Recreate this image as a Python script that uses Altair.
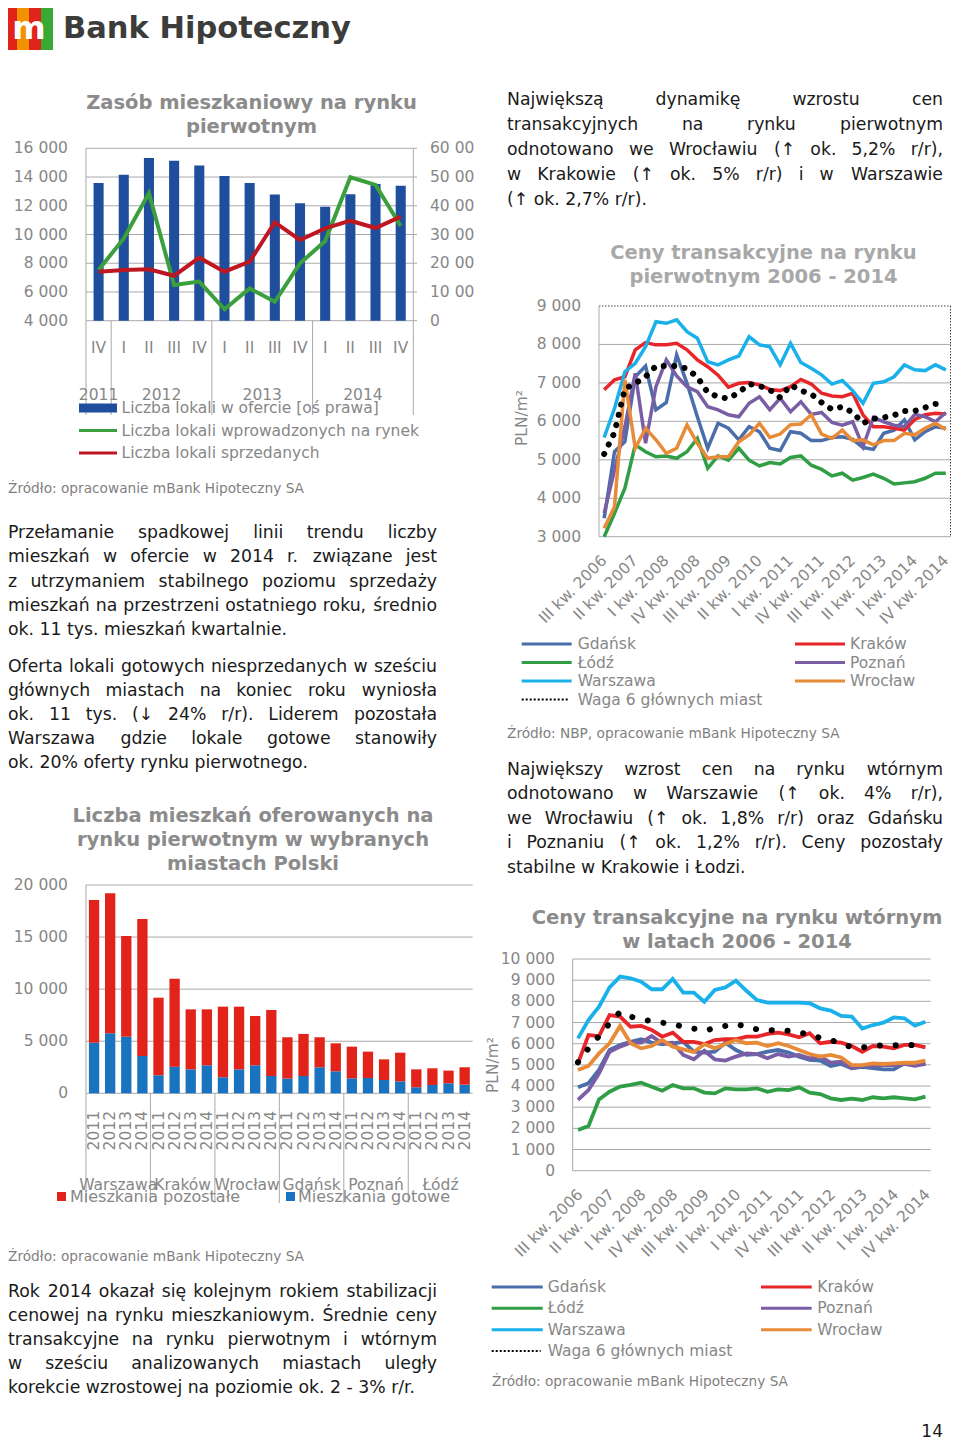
import altair as alt
import pandas as pd

# ---------------- page geometry ----------------
OX, OY = 8, 8
W, H = 944, 1435


def X(v):
    return v - OX


def Y(v):
    return v - OY


FONT = "DejaVu Sans"
TXT = "#1a1a1a"
LBL = "#878787"
GRID = "#a9a9a9"
TTL = "#8b8b8b"
TTL2 = "#a8a8a8"

# ---------------- data ----------------
# header
logo_word = "Bank Hipoteczny"
logo_stripes = ["s1", "s2", "s3", "s4"]

# chart 1
c1_title = ["Zasób mieszkaniowy na rynku", "pierwotnym"]
c1_quarters = ["IV", "I", "II", "III", "IV", "I", "II", "III", "IV", "I", "II", "III", "IV"]
c1_years = ["2011", "2012", "2012", "2012", "2012", "2013", "2013", "2013", "2013",
            "2014", "2014", "2014", "2014"]
c1_offer = [47900, 50800, 56600, 55700, 54000, 50400, 47900, 43900, 40900, 39700, 44000, 47600, 47000]
c1_new = [7530, 9730, 12870, 6480, 6720, 4790, 6250, 5320, 7990, 9550, 13980, 13450, 10590]
c1_sold = [7410, 7530, 7580, 7130, 8390, 7410, 8110, 10850, 9620, 10430, 10960, 10450, 11240]
c1_left_ticks = [4000, 6000, 8000, 10000, 12000, 14000, 16000]
c1_right_ticks = [0, 10000, 20000, 30000, 40000, 50000, 60000]
c1_right_labels = ["0", "10 00", "20 00", "30 00", "40 00", "50 00", "60 00"]
c1_legend = ["Liczba lokali w ofercie [oś prawa]", "Liczba lokali wprowadzonych na rynek",
             "Liczba lokali sprzedanych"]
source_mbh = "Źródło: opracowanie mBank Hipoteczny SA"
source_nbp = "Źródło: NBP, opracowanie mBank Hipoteczny SA"

# chart 2 / 4 (quarters III kw. 2006 .. IV kw. 2014)
roman = ["I", "II", "III", "IV"]
quarters = [f"{roman[q]} kw. {y}" for y in range(2006, 2015) for q in range(4)][2:]
cities = ["Gdańsk", "Kraków", "Łódź", "Poznań", "Warszawa", "Wrocław"]
waga_name = "Waga 6 głównych miast"

c2_title = ["Ceny transakcyjne na rynku", "pierwotnym 2006 - 2014"]
c2_gdansk = [3480, 5210, 5470, 7160, 7440, 6300, 6490, 7730, 6990, 6120, 5300, 5950, 5820, 5520, 5860, 5730, 5300,
             5240, 5730, 5690, 5500, 5500, 5580, 5600, 5530, 5320, 5270, 5690, 5770, 6040, 5520, 5730, 5860, 5820]
c2_krakow = [6820, 7080, 7160, 7860, 8050, 7990, 7990, 8030, 7860, 7600, 7420, 7200, 6890, 6990, 7010, 6950, 6830,
             6800, 6900, 7090, 6970, 6730, 6660, 6640, 6730, 6170, 5860, 5860, 5820, 5770, 6050, 6170, 6210, 6190]
c2_lodz = [3000, 3610, 4260, 5390, 5210, 5080, 5100, 5040, 5210, 5560, 4780, 5100, 4990, 5300, 4990, 4840, 4930,
           4890, 5060, 5100, 4860, 4750, 4580, 4650, 4470, 4540, 4630, 4520, 4370, 4400, 4430, 4520, 4650, 4650]
c2_poznan = [3610, 4730, 5860, 7250, 5430, 6900, 7600, 7180, 6900, 6770, 6380, 6300, 6170, 6120, 6470, 6640, 6300,
             6600, 6250, 6510, 6180, 6230, 5970, 5900, 5990, 5340, 6100, 5990, 5900, 5860, 6180, 6120, 5990, 6230]
c2_warszawa = [5580, 6340, 7290, 7510, 7940, 8590, 8550, 8640, 8330, 8160, 7550, 7470, 7600, 7700, 8200, 7990, 7940,
               7470, 8030, 7530, 7380, 7210, 6970, 7060, 6800, 6470, 6990, 7030, 7160, 7470, 7340, 7320, 7470, 7340]
c2_wroclaw = [3220, 3780, 7080, 5300, 5820, 5520, 5170, 5300, 5910, 5430, 5040, 5080, 5080, 5470, 5650, 5950, 5580,
              5670, 5910, 5930, 6170, 5670, 5560, 5770, 5500, 5520, 5390, 5500, 5500, 5690, 5650, 5820, 5950, 5790]
c2_waga = [5150, 5710, 6850, 6990, 7160, 7440, 7440, 7440, 7370, 7150, 6750, 6640, 6590, 6750, 6970, 6920, 6820,
           6620, 6940, 6800, 6710, 6490, 6310, 6380, 6230, 5950, 6070, 6100, 6160, 6270, 6270, 6360, 6450, 6480]
c2_ticks = [3000, 4000, 5000, 6000, 7000, 8000, 9000]

c4_title = ["Ceny transakcyjne na rynku wtórnym", "w latach 2006 - 2014"]
c4_gdansk = [3940, 4130, 4760, 5700, 5940, 6090, 6210, 6050, 5980, 6020, 6090, 5620, 5580, 5620, 6050, 5700, 5470,
             5510, 5620, 5700, 5580, 5390, 5230, 5200, 4950, 5040, 4840, 4910, 4840, 4790, 4790, 5070, 5040, 5040]
c4_krakow = [5070, 6410, 6360, 7350, 7280, 6800, 6840, 6650, 6330, 6520, 6090, 6090, 5980, 6170, 6210, 6210, 6330,
             6330, 6460, 6520, 6440, 6300, 6490, 6020, 6090, 6050, 5890, 5620, 5890, 5860, 5780, 5940, 5940, 5830]
c4_lodz = [1920, 2110, 3370, 3730, 3970, 4050, 4160, 3970, 3780, 4050, 3890, 3890, 3690, 3650, 3890, 3840, 3840,
           3890, 3730, 3840, 3810, 3940, 3690, 3620, 3420, 3340, 3400, 3340, 3470, 3420, 3470, 3420, 3370, 3500]
c4_poznan = [3340, 3810, 4600, 5620, 5860, 6050, 6050, 6360, 6020, 6050, 5470, 5260, 5670, 5260, 5200, 5390, 5540,
             5510, 5310, 5510, 5390, 5470, 5310, 5390, 5100, 5150, 4840, 4950, 4950, 4990, 4990, 5040, 4950, 5040]
c4_warszawa = [6250, 7120, 7750, 8660, 9170, 9090, 8930, 8570, 8570, 9060, 8410, 8410, 7980, 8540, 8660, 8980, 8500,
               8060, 7940, 7940, 7940, 7940, 7910, 7670, 7560, 7310, 7280, 6720, 6880, 6990, 7240, 7200, 6850, 7040]
c4_wroclaw = [4760, 4950, 5540, 6020, 6840, 6020, 5780, 5890, 6170, 5860, 5730, 5610, 5980, 5780, 5980, 6170, 6020,
              6050, 5890, 6020, 5890, 5700, 5510, 5390, 5470, 5350, 4990, 4990, 5070, 5040, 5070, 5100, 5100, 5200]
c4_waga = [5120, 5780, 6360, 6960, 7500, 7280, 7150, 7060, 6990, 6930, 6800, 6710, 6610, 6740, 6840, 6930, 6800,
           6680, 6650, 6610, 6610, 6520, 6440, 6270, 6170, 6020, 5830, 5830, 5860, 5940, 5920, 5920, 5940, 5920]
c4_ticks = [0, 1000, 2000, 3000, 4000, 5000, 6000, 7000, 8000, 9000, 10000]

# chart 3
c3_title = ["Liczba mieszkań oferowanych na", "rynku pierwotnym w wybranych", "miastach Polski"]
c3_cities = ["Warszawa", "Kraków", "Wrocław", "Gdańsk", "Poznań", "Łódź"]
c3_years = ["2011", "2012", "2013", "2014"]
c3_types = ["Mieszkania pozostałe", "Mieszkania gotowe"]
c3_ready = [4860, 5760, 5440, 3580, 1730, 2560, 2300, 2690, 1540, 2300, 2690, 1660,
            1410, 1660, 2500, 2110, 1440, 1470, 1280, 1150, 580, 800, 960, 830]
c3_other = [13700, 13440, 9660, 13160, 7450, 8450, 5760, 5370, 6780, 6020, 4730, 6340,
            3970, 4040, 2880, 2690, 3040, 2530, 1980, 2750, 1720, 1600, 1220, 1670]
c3_ticks = [0, 5000, 10000, 15000, 20000]

# text paragraphs
para_rt = ["Największą dynamikę wzrostu cen",
           "transakcyjnych na rynku pierwotnym",
           "odnotowano we Wrocławiu (↑ ok. 5,2% r/r),",
           "w Krakowie (↑ ok. 5% r/r) i w Warszawie",
           "(↑ ok. 2,7% r/r)."]
para_l1 = ["Przełamanie spadkowej linii trendu liczby",
           "mieszkań w ofercie w 2014 r. związane jest",
           "z utrzymaniem stabilnego poziomu sprzedaży",
           "mieszkań na przestrzeni ostatniego roku, średnio",
           "ok. 11 tys. mieszkań kwartalnie."]
para_l2 = ["Oferta lokali gotowych niesprzedanych w sześciu",
           "głównych miastach na koniec roku wyniosła",
           "ok. 11 tys. (↓ 24% r/r). Liderem pozostała",
           "Warszawa gdzie lokale gotowe stanowiły",
           "ok. 20% oferty rynku pierwotnego."]
para_rm = ["Największy wzrost cen na rynku wtórnym",
           "odnotowano w Warszawie (↑ ok. 4% r/r),",
           "we Wrocławiu (↑ ok. 1,8% r/r) oraz Gdańsku",
           "i Poznaniu (↑ ok. 1,2% r/r). Ceny pozostały",
           "stabilne w Krakowie i Łodzi."]
para_lb = ["Rok 2014 okazał się kolejnym rokiem stabilizacji",
           "cenowej na rynku mieszkaniowym. Średnie ceny",
           "transakcyjne na rynku pierwotnym i wtórnym",
           "w sześciu analizowanych miastach uległy",
           "korekcie wzrostowej na poziomie ok. 2 - 3% r/r."]
page_no = "14"

# ---------------- styles ----------------
logo_colors = ["#e2231a", "#f39200", "#e2231a", "#3aaa35"]
C1_BAR, C1_GREEN, C1_RED = "#1f4f9c", "#3a9f3c", "#bf1722"
C3_COLORS = ["#e2231a", "#1a73be"]
CITY_COLORS = ["#4a6ea9", "#e8262a", "#2f9e44", "#7a5ea5", "#1ab0ea", "#e88b39"]
CCOL = dict(zip(cities, CITY_COLORS))

# ---------------- helpers ----------------
ONE = pd.DataFrame({"k": [0]})
layers = []


def fmt(v):
    return f"{v:,}".replace(",", " ")


def qs(lo, hi, r0, r1):
    return alt.Scale(domain=[lo, hi], range=[r0, r1], zero=False, nice=False)


def ps(domain, a, b):
    return alt.Scale(type="point", domain=domain, range=[a, b], padding=0)


def txt(df, x, y, text, size=15.5, color=LBL, align="left", baseline="middle", angle=0, weight="normal",
        font=FONT):
    return alt.Chart(df).mark_text(align=align, baseline=baseline, angle=angle, fontSize=size, color=color,
                                   font=font, fontWeight=weight).encode(x=x, y=y, text=text)


def label(s, x, y, size=15.5, color=LBL, align="left", weight="normal", angle=0, lh=24, baseline="middle",
          font=FONT):
    lines = s if isinstance(s, list) else [s]
    return alt.Chart(ONE).mark_text(text=lines, align=align, baseline=baseline, fontSize=size, color=color,
                                    font=font, fontWeight=weight, angle=angle, lineHeight=lh).encode(
        x=alt.value(X(x)), y=alt.value(Y(y)))


def groups_of(seq):
    out = []
    for i, v in enumerate(seq):
        if not out or out[-1][0] != v:
            out.append([v, i, i])
        else:
            out[-1][2] = i
    return out


# DejaVu Sans advance widths (units per em 2048) for justified text layout
DV = {' ': 651, '%': 1946, '(': 799, ')': 799, ',': 651, '-': 739, '.': 651, '/': 690, ':': 690,
      'A': 1401, 'B': 1405, 'C': 1430, 'D': 1577, 'E': 1294, 'F': 1178, 'G': 1587, 'H': 1540, 'I': 604,
      'J': 604, 'K': 1343, 'L': 1141, 'M': 1767, 'N': 1532, 'O': 1612, 'P': 1235, 'R': 1423, 'S': 1300,
      'T': 1251, 'U': 1499, 'W': 2025, 'Z': 1403,
      'a': 1255, 'b': 1300, 'c': 1126, 'd': 1300, 'e': 1260, 'f': 721, 'g': 1300, 'h': 1298, 'i': 569,
      'j': 569, 'k': 1186, 'l': 569, 'm': 1995, 'n': 1298, 'o': 1253, 'p': 1300, 'r': 842, 's': 1067,
      't': 803, 'u': 1298, 'v': 1212, 'w': 1675, 'y': 1212, 'z': 1075,
      'ą': 1255, 'ę': 1260, 'ó': 1253, 'ś': 1067, 'ź': 1075, 'ż': 1075, 'ń': 1298, 'ł': 589, 'ć': 1126,
      'Ł': 1145, 'Ś': 1300, '↑': 1716, '↓': 1716}
for d in "0123456789":
    DV[d] = 1303
PSIZE = 17.3


def tw(s, size=PSIZE):
    return sum(DV.get(ch, 1250) for ch in s) / 2048.0 * size


left_rows, right_rows = [], []


def justify(lines, x0, x1, y0, dy):
    for k, line in enumerate(lines):
        yy = y0 + k * dy
        words = line.split()
        if k == len(lines) - 1 or len(words) < 2:
            left_rows.append({"x": X(x0), "y": Y(yy), "t": line})
            continue
        widths = [tw(w) for w in words]
        gap = (x1 - x0 - sum(widths)) / (len(words) - 1)
        xc = x0
        for j, w in enumerate(words):
            if j == len(words) - 1:
                right_rows.append({"x": X(x1), "y": Y(yy), "t": w})
            else:
                left_rows.append({"x": X(xc), "y": Y(yy), "t": w})
            xc += widths[j] + gap


justify(para_rt, 507, 943, 99.5, 25)
justify(para_l1, 8, 437, 533, 24.3)
justify(para_l2, 8, 437, 666.5, 24.2)
justify(para_rm, 507, 943, 770, 24.4)
justify(para_lb, 8, 437, 1291.5, 24)

# ---------------- header ----------------
dfl = pd.DataFrame({"s": logo_stripes})
layers.append(alt.Chart(dfl).mark_rect().encode(
    x=alt.X("s:N", scale=alt.Scale(domain=logo_stripes, range=[X(5), X(53)], paddingInner=0, paddingOuter=0),
            axis=None),
    y=alt.value(Y(8)), y2=alt.value(Y(50)),
    color=alt.Color("s:N", scale=alt.Scale(domain=logo_stripes, range=logo_colors), legend=None)))
layers.append(label("m", 29, 39, size=32, color="#ffffff", align="center", weight="bold", baseline="alphabetic"))
layers.append(label(logo_word, 63, 37.5, size=30.5, color="#3c3c3b", weight="bold", baseline="alphabetic"))

# ---------------- chart 1 ----------------
C1L, C1R, C1T, C1B = 86, 413.3, 148.3, 320.7
n1 = len(c1_quarters)
keys1 = [f"{q} {y}" for q, y in zip(c1_quarters, c1_years)]
df1 = pd.DataFrame({"i": range(n1), "key": keys1, "q": c1_quarters, "offer": c1_offer, "new": c1_new,
                    "sold": c1_sold})
x1 = alt.X("i:Q", scale=qs(-0.5, n1 - 0.5, X(C1L), X(C1R)), axis=None)
yl1 = qs(4000, 16000, Y(C1B), Y(C1T))
yr1 = qs(0, 60000, Y(C1B), Y(C1T))

dft = pd.DataFrame({"v": c1_left_ticks, "t": [fmt(v) for v in c1_left_ticks]})
layers.append(alt.Chart(dft).mark_rule(color=GRID, strokeWidth=1).encode(
    y=alt.Y("v:Q", scale=yl1, axis=None), x=alt.value(X(C1L)), x2=alt.value(X(417))))
layers.append(txt(dft, alt.value(X(68)), alt.Y("v:Q", scale=yl1, axis=None), "t:N", align="right"))
dfr = pd.DataFrame({"v": c1_right_ticks, "t": c1_right_labels})
layers.append(txt(dfr, alt.value(X(430)), alt.Y("v:Q", scale=yr1, axis=None), "t:N"))

layers.append(alt.Chart(df1).mark_bar(color=C1_BAR).encode(
    x=alt.X("key:N", scale=alt.Scale(domain=keys1, range=[X(C1L), X(C1R)], paddingInner=0.6, paddingOuter=0.3),
            axis=None),
    y=alt.Y("offer:Q", scale=yr1, axis=None)))
layers.append(alt.Chart(df1).mark_line(color=C1_GREEN, strokeWidth=4).encode(
    x=x1, y=alt.Y("new:Q", scale=yl1, axis=None)))
layers.append(alt.Chart(df1).mark_line(color=C1_RED, strokeWidth=4).encode(
    x=x1, y=alt.Y("sold:Q", scale=yl1, axis=None)))
layers.append(txt(df1, x1, alt.value(Y(348.3)), "q:N", align="center"))

g1 = groups_of(c1_years)
bounds1 = [g[1] - 0.5 for g in g1] + [g1[-1][2] + 0.5]
dfb_in = pd.DataFrame({"b": bounds1[1:-1]})
dfb_out = pd.DataFrame({"b": [bounds1[0], bounds1[-1]]})
xb1 = alt.X("b:Q", scale=qs(-0.5, n1 - 0.5, X(C1L), X(C1R)), axis=None)
layers.append(alt.Chart(dfb_out).mark_rule(color=GRID).encode(x=xb1, y=alt.value(Y(C1T)), y2=alt.value(Y(415))))
layers.append(alt.Chart(dfb_in).mark_rule(color=GRID).encode(x=xb1, y=alt.value(Y(C1B)), y2=alt.value(Y(415))))
dfy1 = pd.DataFrame({"c": [(g[1] + g[2]) / 2 for g in g1], "t": [g[0] for g in g1]})
layers.append(txt(dfy1, alt.X("c:Q", scale=qs(-0.5, n1 - 0.5, X(C1L), X(C1R)), axis=None), alt.value(Y(395)),
                  "t:N", align="center"))

dfleg1 = pd.DataFrame({"e": c1_legend})
yleg1 = alt.Y("e:N", scale=ps(c1_legend, Y(408), Y(453)), axis=None)
cleg1 = alt.Color("e:N", scale=alt.Scale(domain=c1_legend, range=[C1_BAR, C1_GREEN, C1_RED]), legend=None)
layers.append(alt.Chart(dfleg1.iloc[[0]]).mark_rule(strokeWidth=9).encode(
    y=yleg1, x=alt.value(X(79)), x2=alt.value(X(117)), color=cleg1))
layers.append(alt.Chart(dfleg1.iloc[[1, 2]]).mark_rule(strokeWidth=3).encode(
    y=yleg1, x=alt.value(X(79)), x2=alt.value(X(117)), color=cleg1))
layers.append(txt(dfleg1, alt.value(X(121.5)), yleg1, "e:N"))
layers.append(label(c1_title, 251.5, 103, size=19.5, color=TTL, align="center", weight="bold"))
layers.append(label(source_mbh, 8, 489, size=13.7, color="#7f7f7f"))


# ---------------- charts 2 & 4 (prices) ----------------
def price_chart(series, waga, title, g):
    n = len(quarters)
    L, R, T, B = g["L"], g["R"], g["T"], g["B"]
    xs = qs(-0.5, n - 0.5, X(L), X(R))
    ys = qs(g["ymin"], g["ymax"], Y(B), Y(T))
    ticks = g["ticks"]
    dft = pd.DataFrame({"v": ticks, "t": [fmt(v) for v in ticks]})
    solid = dft if not g["dotted"] else dft.iloc[:-1]
    layers.append(alt.Chart(solid).mark_rule(color=GRID, strokeWidth=1).encode(
        y=alt.Y("v:Q", scale=ys, axis=None), x=alt.value(X(L)), x2=alt.value(X(R))))
    if g["dotted"]:
        layers.append(alt.Chart(dft.iloc[[-1]]).mark_rule(color="#444444", strokeWidth=1,
                                                           strokeDash=[1.5, 1.5]).encode(
            y=alt.Y("v:Q", scale=ys, axis=None), x=alt.value(X(L)), x2=alt.value(X(R))))
        layers.append(alt.Chart(ONE).mark_rule(color="#444444", strokeWidth=1, strokeDash=[1.5, 1.5]).encode(
            x=alt.value(X(R - 0.5)), y=alt.value(Y(T)), y2=alt.value(Y(B))))
    layers.append(alt.Chart(ONE).mark_rule(color=GRID, strokeWidth=1).encode(
        x=alt.value(X(L)), y=alt.value(Y(T)), y2=alt.value(Y(B))))
    layers.append(txt(dft, alt.value(X(g["ylab_x"])), alt.Y("v:Q", scale=ys, axis=None), "t:N", align="right"))

    rows = []
    for c in cities:
        for i, v in enumerate(series[c]):
            rows.append({"i": i, "city": c, "v": v})
    dfl = pd.DataFrame(rows)
    layers.append(alt.Chart(dfl).mark_line(strokeWidth=g["lw"]).encode(
        x=alt.X("i:Q", scale=xs, axis=None), y=alt.Y("v:Q", scale=ys, axis=None),
        color=alt.Color("city:N", scale=alt.Scale(domain=cities, range=CITY_COLORS), legend=None)))
    dfw = pd.DataFrame({"i": range(n), "v": waga})
    layers.append(alt.Chart(dfw).mark_line(color="#000000", strokeWidth=6, strokeDash=[0.1, g["dot"]],
                                           strokeCap="round").encode(
        x=alt.X("i:Q", scale=xs, axis=None), y=alt.Y("v:Q", scale=ys, axis=None)))

    dfx = pd.DataFrame({"i": range(n), "t": quarters})
    dfx = dfx[dfx["i"] % 3 == 0]
    layers.append(alt.Chart(dfx).mark_text(align="right", baseline="middle", angle=315, fontSize=15.5,
                                           color=LBL, font=FONT, dx=g["xl_dx"]).encode(
        x=alt.X("i:Q", scale=xs, axis=None), y=alt.value(Y(g["xl_y"])), text="t:N"))
    layers.append(label("PLN/m²", g["pln_x"], g["pln_y"], align="center", angle=270))
    layers.append(label(title, g["tx"], g["ty"], size=19.5, color=g["tcol"], align="center", weight="bold"))

    left_e = ["Gdańsk", "Łódź", "Warszawa", waga_name]
    right_e = ["Kraków", "Poznań", "Wrocław"]
    y0, y1 = g["leg_y"]
    step = (y1 - y0) / 3
    yl = alt.Y("e:N", scale=ps(left_e, Y(y0), Y(y1)), axis=None)
    yr = alt.Y("e:N", scale=ps(right_e, Y(y0), Y(y0 + 2 * step)), axis=None)
    dfle = pd.DataFrame({"e": left_e})
    dfre = pd.DataFrame({"e": right_e})
    layers.append(alt.Chart(dfle.iloc[:3]).mark_rule(strokeWidth=3).encode(
        y=yl, x=alt.value(X(g["ls"][0])), x2=alt.value(X(g["ls"][1])),
        color=alt.Color("e:N", scale=alt.Scale(domain=left_e[:3], range=[CCOL[c] for c in left_e[:3]]),
                        legend=None)))
    layers.append(alt.Chart(dfle.iloc[[3]]).mark_rule(strokeWidth=2, color="#000000", strokeDash=[2, 2]).encode(
        y=yl, x=alt.value(X(g["ls"][0])), x2=alt.value(X(g["wend"]))))
    layers.append(txt(dfle, alt.value(X(g["lt"])), yl, "e:N"))
    layers.append(alt.Chart(dfre).mark_rule(strokeWidth=3).encode(
        y=yr, x=alt.value(X(g["rs"][0])), x2=alt.value(X(g["rs"][1])),
        color=alt.Color("e:N", scale=alt.Scale(domain=right_e, range=[CCOL[c] for c in right_e]),
                        legend=None)))
    layers.append(txt(dfre, alt.value(X(g["rt"])), yr, "e:N"))
    layers.append(label(g["src"], g["src_x"], g["src_y"], size=13.7, color="#7f7f7f"))


price_chart(dict(zip(cities, [c2_gdansk, c2_krakow, c2_lodz, c2_poznan, c2_warszawa, c2_wroclaw])), c2_waga,
            c2_title,
            dict(L=599, R=951, T=306, B=536.7, ymin=3000, ymax=9000, ticks=c2_ticks, dotted=True, ylab_x=581,
                 lw=3.5, dot=10.4, xl_y=558, xl_dx=0, pln_x=522, pln_y=418, tx=763.5, ty=253, tcol=TTL2,
                 leg_y=(644, 699.5), ls=(521.7, 571.7), wend=568, lt=577.7, rs=(795, 845), rt=850,
                 src=source_nbp, src_x=507, src_y=734))

price_chart(dict(zip(cities, [c4_gdansk, c4_krakow, c4_lodz, c4_poznan, c4_warszawa, c4_wroclaw])), c4_waga,
            c4_title,
            dict(L=572.7, R=930.7, T=959, B=1170.7, ymin=0, ymax=10000, ticks=c4_ticks, dotted=False, ylab_x=555,
                 lw=3.8, dot=15.7, xl_y=1194, xl_dx=3, pln_x=492.5, pln_y=1065, tx=737, ty=918, tcol=TTL,
                 leg_y=(1287, 1351), ls=(491.7, 542.7), wend=540.7, lt=547.7, rs=(761, 811.7), rt=817.3,
                 src=source_mbh, src_x=492, src_y=1382))

# ---------------- chart 3 ----------------
C3L, C3R, C3T, C3B = 86, 472.7, 885, 1093.3
keys3 = [f"{c} {y}" for c in c3_cities for y in c3_years]
n3 = len(keys3)
ys3 = qs(0, 20000, Y(C3B), Y(C3T))
xs3 = qs(-0.5, n3 - 0.5, X(C3L), X(C3R))
dft3 = pd.DataFrame({"v": c3_ticks, "t": [fmt(v) for v in c3_ticks]})
layers.append(alt.Chart(dft3).mark_rule(color=GRID, strokeWidth=1).encode(
    y=alt.Y("v:Q", scale=ys3, axis=None), x=alt.value(X(C3L)), x2=alt.value(X(C3R))))
layers.append(txt(dft3, alt.value(X(68)), alt.Y("v:Q", scale=ys3, axis=None), "t:N", align="right"))
rows3 = []
for k, key in enumerate(keys3):
    rows3.append({"key": key, "typ": c3_types[1], "v": c3_ready[k], "ord": 0})
    rows3.append({"key": key, "typ": c3_types[0], "v": c3_other[k], "ord": 1})
df3 = pd.DataFrame(rows3)
layers.append(alt.Chart(df3).mark_bar().encode(
    x=alt.X("key:N", scale=alt.Scale(domain=keys3, range=[X(C3L), X(C3R)], paddingInner=0.36, paddingOuter=0.18),
            axis=None),
    y=alt.Y("v:Q", stack="zero", scale=ys3, axis=None),
    color=alt.Color("typ:N", scale=alt.Scale(domain=c3_types, range=C3_COLORS), legend=None),
    order=alt.Order("ord:Q")))
dfy3 = pd.DataFrame({"i": range(n3), "t": [y for c in c3_cities for y in c3_years]})
layers.append(alt.Chart(dfy3).mark_text(align="right", baseline="middle", angle=270, fontSize=15.5, color=LBL,
                                        font=FONT).encode(
    x=alt.X("i:Q", scale=xs3, axis=None), y=alt.value(Y(1111)), text="t:N"))
g3 = groups_of([c for c in c3_cities for _ in c3_years])
dfb3 = pd.DataFrame({"b": [g[1] - 0.5 for g in g3][1:]})
layers.append(alt.Chart(pd.DataFrame({"b": [-0.5]})).mark_rule(color=GRID).encode(
    x=alt.X("b:Q", scale=xs3, axis=None), y=alt.value(Y(C3T)), y2=alt.value(Y(1203))))
layers.append(alt.Chart(dfb3).mark_rule(color=GRID).encode(
    x=alt.X("b:Q", scale=xs3, axis=None), y=alt.value(Y(C3B)), y2=alt.value(Y(1203))))
dfc3 = pd.DataFrame({"c": [(g[1] + g[2]) / 2 for g in g3], "t": [g[0] for g in g3]})
layers.append(txt(dfc3, alt.X("c:Q", scale=xs3, axis=None), alt.value(Y(1185)), "t:N", align="center"))
dfleg3 = pd.DataFrame({"e": c3_types})
layers.append(alt.Chart(dfleg3).mark_square(size=81, opacity=1).encode(
    x=alt.X("e:N", scale=ps(c3_types, X(61.5), X(290.5)), axis=None), y=alt.value(Y(1196.5)),
    color=alt.Color("e:N", scale=alt.Scale(domain=c3_types, range=C3_COLORS), legend=None)))
layers.append(txt(dfleg3, alt.X("e:N", scale=ps(c3_types, X(70), X(298)), axis=None), alt.value(Y(1196.5)),
                  "e:N", size=16))
layers.append(label(c3_title, 253, 816, size=19.5, color=TTL, align="center", weight="bold"))
layers.append(label(source_mbh, 8, 1257, size=13.7, color="#7f7f7f"))

# ---------------- paragraphs ----------------
layers.append(txt(pd.DataFrame(left_rows), alt.X("x:Q", scale=None, axis=None), alt.Y("y:Q", scale=None, axis=None),
                  "t:N", size=PSIZE, color=TXT))
layers.append(txt(pd.DataFrame(right_rows), alt.X("x:Q", scale=None, axis=None),
                  alt.Y("y:Q", scale=None, axis=None), "t:N", size=PSIZE, color=TXT, align="right"))
layers.append(label(page_no, 943, 1432, size=17, color=TXT, align="right"))

chart = alt.layer(*layers).resolve_scale(x="independent", y="independent", color="independent").properties(
    width=W, height=H, padding=0, autosize=alt.AutoSizeParams(type="none"), background="#ffffff"
).configure_view(stroke=None)

chart.save("out.html", embed_options={"renderer": "svg", "actions": False})
